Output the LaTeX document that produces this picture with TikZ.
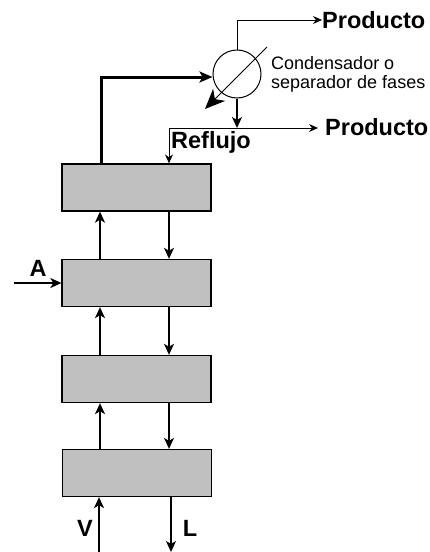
\documentclass[tikz,border=0pt]{standalone}
\usepackage{fontspec}
\setmainfont{Liberation Sans}
\usetikzlibrary{arrows.meta}
\definecolor{platogris}{HTML}{C0C0C0}
\tikzset{
  plato/.style={draw, fill=platogris, line width=1.3pt, minimum width=149pt, minimum height=47pt, inner sep=0pt},
  flecha/.style={line width=1.5pt, -{Stealth[length=11pt,width=10pt,inset=3pt]}},
  fina/.style={line width=1pt, -{Stealth[length=9pt,width=8pt,inset=3pt]}},
  grande/.style={font=\bfseries\fontsize{23.5}{26}\selectfont, inner sep=0pt},
}
\begin{document}
\begin{tikzpicture}[x=1pt, y=-1pt]
      \useasboundingbox (0,0) rectangle (429,552);
      \node[plato] (plato1) at (136.5,187.5) {};
      \node[plato] (plato2) at (136.5,283) {};
      \node[plato] (plato3) at (136.5,379) {};
      \node[plato] (plato4) at (137,473) {};
      \node[circle, draw, line width=1pt, minimum size=48pt, inner sep=0pt] (cond) at (237,74) {};

      \coordinate (vap) at (100,0);
      \coordinate (liq) at (169,0);
      \coordinate (codo) at (101,77);
      \coordinate (union) at (237,128);
      \coordinate (reflujo) at (169,128);
      \coordinate (diagA) at (267,47);
      \coordinate (diagB) at (205,109);
      \coordinate (entradaA) at (14,283);
      \coordinate (entradaV) at (99,552);
      \coordinate (salidaL) at (171,552);

      \node[grande, anchor=west] (prod1) at (322,20) {Producto};
      \node[grande, anchor=west] (prod2) at (325,127) {Producto};
      \node[grande, anchor=west] (refl) at (171,142) {Reflujo};
      \node[anchor=north west, inner sep=0pt, align=left, font=\fontsize{18}{19.5}\selectfont] (condtxt) at (271,56) {Condensador o\\separador de fases};
      \node[grande] (labA) at (38,268) {A};
      \node[grande] (labV) at (85,528) {V};
      \node[grande] (labL) at (190,528) {L};

      % cabeza
      \draw[line width=3pt, -{Stealth[length=13pt,width=11pt,inset=3pt]}] (plato1.north -| codo) -- (codo) -- (cond.west |- codo);
      \draw[fina] (cond.north) |- (prod1.west);
      \draw[fina, line width=1pt, -{Stealth[length=20pt,width=17pt,inset=6pt]}] (diagA) -- (diagB);
      \draw[flecha] (cond.south) -- (union);
      \draw[fina] (reflujo) -- ++(149,0) coordinate (finprod);
      \draw[fina] (reflujo) -- (plato1.north -| reflujo);

      % platos
      \draw[flecha] (plato2.north -| vap) -- (plato1.south -| vap);
      \draw[flecha] (plato1.south -| liq) -- (plato2.north -| liq);
      \draw[flecha] (plato3.north -| vap) -- (plato2.south -| vap);
      \draw[flecha] (plato2.south -| liq) -- (plato3.north -| liq);
      \draw[flecha] (plato4.north -| vap) -- (plato3.south -| vap);
      \draw[flecha] (plato3.south -| liq) -- (plato4.north -| liq);

      \draw[flecha] (entradaA) -- (plato2.west |- entradaA);
      \draw[flecha] (entradaV) -- (plato4.south -| entradaV);
      \draw[flecha] (plato4.south -| salidaL) -- (salidaL);
    \end{tikzpicture}
\end{document}
